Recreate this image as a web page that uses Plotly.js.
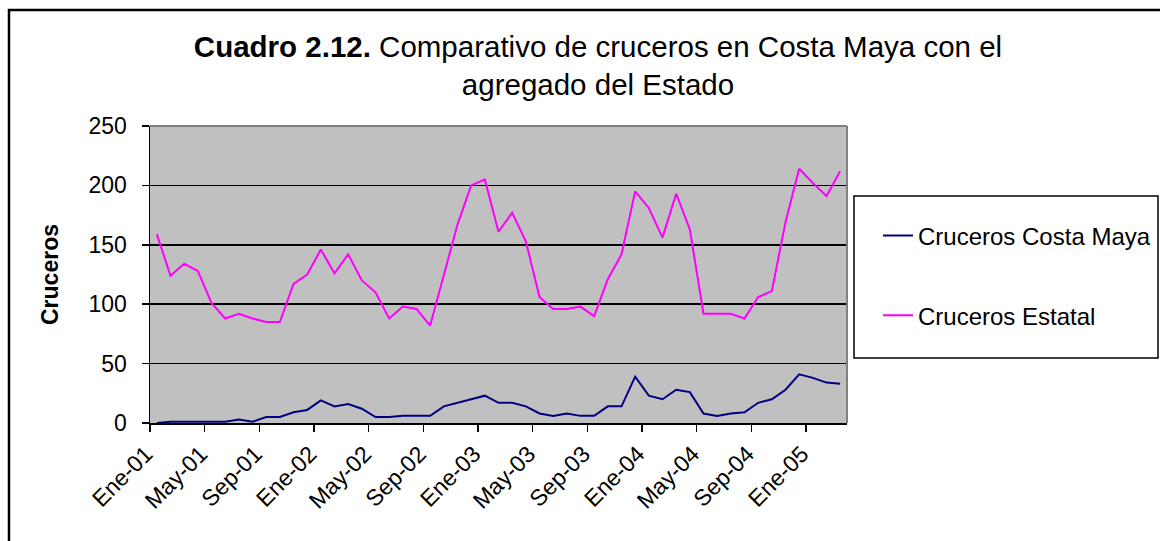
<!DOCTYPE html>
<html>
<head>
<meta charset="utf-8">
<script src="https://cdn.plot.ly/plotly-3.0.1.min.js"></script>
<style>
  html, body { margin: 0; padding: 0; background: #ffffff; }
  #chart { width: 1160px; height: 541px; }
</style>
</head>
<body>
<div id="chart"></div>
<script>
// Categories (monthly, Ene-01 .. Mar-05)
const meses = [
  'Ene-01','Feb-01','Mar-01','Abr-01','May-01','Jun-01','Jul-01','Ago-01','Sep-01','Oct-01','Nov-01','Dic-01',
  'Ene-02','Feb-02','Mar-02','Abr-02','May-02','Jun-02','Jul-02','Ago-02','Sep-02','Oct-02','Nov-02','Dic-02',
  'Ene-03','Feb-03','Mar-03','Abr-03','May-03','Jun-03','Jul-03','Ago-03','Sep-03','Oct-03','Nov-03','Dic-03',
  'Ene-04','Feb-04','Mar-04','Abr-04','May-04','Jun-04','Jul-04','Ago-04','Sep-04','Oct-04','Nov-04','Dic-04',
  'Ene-05','Feb-05','Mar-05'
];

// Series values
const crucerosCostaMaya = [
  0, 1, 1, 1, 1, 1, 3, 1, 5, 5,
  9, 11, 19, 14, 16, 12, 5, 5, 6, 6,
  6, 14, 17, 20, 23, 17, 17, 14, 8, 6,
  8, 6, 6, 14, 14, 39, 23, 20, 28, 26,
  8, 6, 8, 9, 17, 20, 28, 41, 38, 34, 33
];
const crucerosEstatal = [
  159, 124, 134, 128, 101, 88, 92, 88, 85, 85,
  117, 125, 146, 126, 142, 120, 110, 88, 98, 96,
  82, 124, 167, 200, 205, 161, 177, 153, 106, 96,
  96, 98, 90, 121, 142, 195, 181, 156, 193, 163,
  92, 92, 92, 88, 106, 111, 169, 214, 202, 191, 212
];

// Tick labels every 4 months
const tickEvery = 4;
const yTicks = [0, 50, 100, 150, 200, 250];

const xPos = meses.map((_, i) => i + 0.5);
const tickvals = [];
const ticktext = [];
for (let i = 0; i < meses.length; i += tickEvery) { tickvals.push(i); ticktext.push(meses[i]); }

const FONT = '"Liberation Sans", Arial, Helvetica, sans-serif';

const traces = [
  {
    x: xPos, y: crucerosCostaMaya, type: 'scatter', mode: 'lines',
    name: 'Cruceros Costa Maya', legendgroup: 'g1',
    line: { color: '#000080', width: 2 },
    text: meses, hovertemplate: '%{text}: %{y}<extra></extra>'
  },
  {
    x: xPos, y: crucerosEstatal, type: 'scatter', mode: 'lines',
    name: 'Cruceros Estatal', legendgroup: 'g2',
    line: { color: '#FF00FF', width: 2 },
    text: meses, hovertemplate: '%{text}: %{y}<extra></extra>'
  }
];

const layout = {
  width: 1160, height: 541,
  margin: { l: 150, r: 313, t: 126, b: 118 },
  paper_bgcolor: '#ffffff',
  plot_bgcolor: '#C0C0C0',
  font: { family: FONT, color: '#000000' },
  showlegend: true,
  title: {
    text: '<b>Cuadro 2.12.</b> Comparativo de cruceros en Costa Maya con el<br>agregado del Estado',
    font: { family: FONT, size: 29.5, color: '#000000' },
    xref: 'container', x: 598 / 1160, xanchor: 'center',
    yref: 'container', y: 1 - 57 / 541, yanchor: 'top'
  },
  xaxis: {
    range: [0, meses.length],
    tickmode: 'array', tickvals: tickvals, ticktext: ticktext,
    tickangle: -45,
    ticks: 'outside', ticklen: 7, tickwidth: 1.5, tickcolor: '#000000',
    ticklabelshift: -4,
    showgrid: false, zeroline: false,
    showline: true, linecolor: '#000000', linewidth: 1.5,
    tickfont: { family: FONT, size: 23, color: '#000000' },
    automargin: false,
    fixedrange: true
  },
  yaxis: {
    range: [0, 250],
    tickmode: 'array', tickvals: yTicks,
    ticks: 'outside', ticklen: 7, tickwidth: 1.5, tickcolor: '#000000',
    ticklabelstandoff: 10,
    showgrid: true, gridcolor: '#000000', gridwidth: 1.5,
    zeroline: false,
    showline: true, linecolor: '#000000', linewidth: 1.5,
    tickfont: { family: FONT, size: 23, color: '#000000' },
    title: { text: '<b>Cruceros</b>', standoff: 23, font: { family: FONT, size: 23, color: '#000000' } },
    automargin: true,
    fixedrange: true
  },
  legend: {
    xref: 'container', yref: 'container',
    x: 878 / 1160, xanchor: 'left',
    y: 1 - 213.5 / 541, yanchor: 'top',
    bgcolor: 'rgba(0,0,0,0)', borderwidth: 0,
    font: { family: FONT, size: 24, color: '#000000' },
    traceorder: 'grouped', tracegroupgap: 45.5
  },
  shapes: [
    // outer chart border
    { type: 'rect', xref: 'paper', yref: 'paper', x0: -0.2023, x1: 1.48, y0: -0.46, y1: 1.3906,
      line: { color: '#000000', width: 2.5 }, fillcolor: 'rgba(0,0,0,0)', layer: 'above' },
    // plot area top and right edges
    { type: 'line', xref: 'paper', yref: 'paper', x0: 0, x1: 1, y0: 1, y1: 1,
      line: { color: '#808080', width: 2 }, layer: 'above' },
    { type: 'line', xref: 'paper', yref: 'paper', x0: 1, x1: 1, y0: 0, y1: 1,
      line: { color: '#808080', width: 2 }, layer: 'above' },
    // legend box
    { type: 'rect', xref: 'paper', yref: 'paper', x0: (854 - 150) / 697, x1: (1158 - 150) / 697,
      y0: (423 - 358) / 297, y1: (423 - 196) / 297,
      line: { color: '#000000', width: 1.5 }, fillcolor: 'rgba(0,0,0,0)', layer: 'above' }
  ]
};

Plotly.newPlot('chart', traces, layout, { displayModeBar: false, staticPlot: true });
</script>
</body>
</html>
